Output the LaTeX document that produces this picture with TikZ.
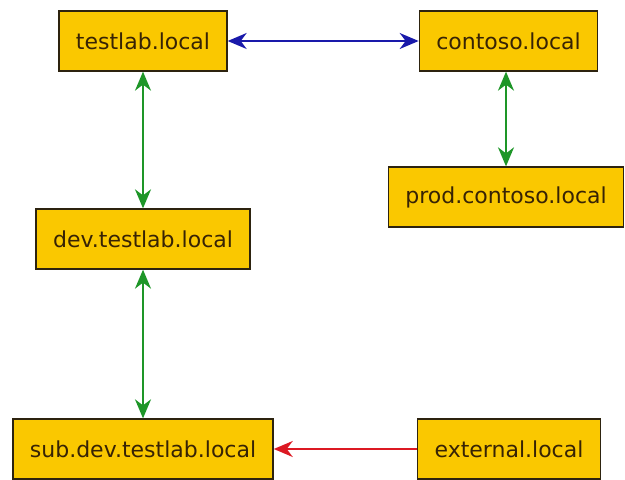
\documentclass[tikz,border=0pt]{standalone}
\usepackage{fontspec}
\setmainfont{DejaVu Sans}
\usetikzlibrary{arrows.meta}
\definecolor{domfill}{RGB}{250,200,0}
\definecolor{domtext}{RGB}{55,35,5}
\definecolor{domline}{RGB}{45,35,15}
\definecolor{trblue}{RGB}{25,25,170}
\definecolor{trgreen}{RGB}{30,150,40}
\definecolor{trred}{RGB}{220,25,35}
\begin{document}
\begin{tikzpicture}[x=1pt,y=1pt,
  dombox/.style={draw=domline,fill=domfill,text=domtext,line width=1.3pt,
    inner xsep=17pt,minimum height=60pt,font=\fontsize{22}{26}\selectfont},
  trust/.style={line width=1.7pt,{Stealth[length=19pt,width=16pt,inset=6pt]}-{Stealth[length=19pt,width=16pt,inset=6pt]}},
  oneway/.style={line width=1.7pt,-{Stealth[length=19pt,width=16pt,inset=6pt]}}]
  \useasboundingbox (0,0) rectangle (625,480);
  \node[dombox] (testlab) at (143,439) {testlab.local};
  \node[dombox] (contoso) at (508.5,439) {contoso.local};
  \node[dombox] (prod) at (506,283) {prod.contoso.local};
  \node[dombox] (dev) at (143,241) {dev.testlab.local};
  \node[dombox] (sub) at (143,31) {sub.dev.testlab.local};
  \node[dombox] (external) at (509,31) {external.local};
  \draw[trust,trblue] (testlab) -- (contoso);
  \draw[trust,trgreen] (testlab) -- (dev);
  \draw[trust,trgreen] (dev) -- (sub);
  \draw[trust,trgreen] (contoso.south -| prod.north) -- (prod.north);
  \draw[oneway,trred] (external) -- (sub);
\end{tikzpicture}
\end{document}
